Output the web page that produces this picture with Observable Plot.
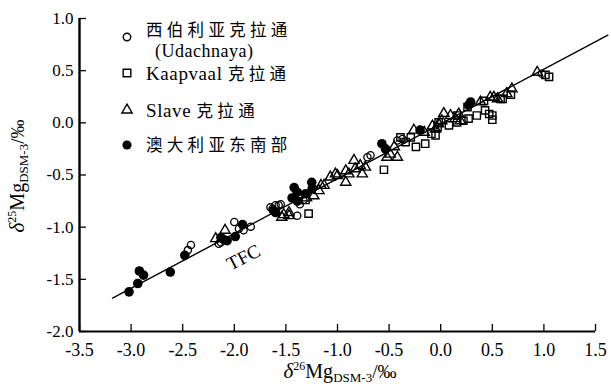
<!DOCTYPE html>
<html><head><meta charset="utf-8">
<script src="https://cdn.jsdelivr.net/npm/d3@7"></script>
<script src="https://cdn.jsdelivr.net/npm/@observablehq/plot@0.6"></script>
<style>body{margin:0;background:#fff}#chart{width:611px;height:386px}</style>
</head><body><div id="chart"></div>
<script>
// δ26Mg (x) , δ25Mg (y) values per group
const siberia = [[-2.45,-1.22],[-2.42,-1.17],[-2.15,-1.16],[-2.13,-1.145],[-2.00,-0.95],[-1.955,-1.015],[-1.91,-1.03],[-1.84,-0.995],[-1.65,-0.81],[-1.63,-0.825],[-1.60,-0.79],[-1.57,-0.79],[-1.55,-0.78],[-1.39,-0.89],[-1.365,-0.78],[-1.33,-0.74],[-0.71,-0.33],[-0.68,-0.31],[-0.42,-0.17],[-0.37,-0.155],[0.98,0.47]];
const kaapvaal = [[-1.28,-0.87],[-1.31,-0.74],[-0.55,-0.45],[-0.39,-0.14],[-0.34,-0.185],[-0.29,-0.14],[-0.24,-0.23],[-0.15,-0.20],[-0.09,-0.105],[-0.05,-0.12],[-0.03,-0.04],[-0.02,0.005],[0.08,-0.025],[0.16,0.07],[0.16,0.005],[0.22,0.02],[0.26,0.15],[0.27,0.04],[0.35,0.07],[0.42,0.21],[0.43,0.12],[0.47,0.085],[0.50,0.07],[0.50,0.03],[0.58,0.23],[0.60,0.23],[0.68,0.27],[1.015,0.46],[1.05,0.44]];
const slave = [[-2.18,-1.11],[-2.09,-1.03],[-1.54,-0.905],[-1.52,-0.88],[-1.47,-0.86],[-1.47,-0.89],[-1.30,-0.72],[-1.23,-0.70],[-1.18,-0.65],[-1.16,-0.60],[-1.13,-0.60],[-1.07,-0.52],[-1.02,-0.49],[-1.00,-0.505],[-0.92,-0.46],[-0.92,-0.57],[-0.89,-0.49],[-0.84,-0.36],[-0.83,-0.44],[-0.78,-0.41],[-0.76,-0.49],[-0.73,-0.425],[-0.52,-0.33],[-0.49,-0.30],[-0.45,-0.23],[-0.42,-0.33],[-0.26,-0.07],[-0.16,-0.09],[-0.08,-0.03],[-0.05,-0.06],[-0.02,-0.01],[0.01,0.02],[0.03,0.09],[0.095,0.07],[0.14,0.04],[0.175,0.085],[0.19,0.02],[0.385,0.20],[0.48,0.245],[0.515,0.245],[0.55,0.23],[0.64,0.28],[0.69,0.325],[0.935,0.485]];
const australia = [[-3.02,-1.62],[-2.935,-1.54],[-2.92,-1.42],[-2.88,-1.46],[-2.62,-1.43],[-2.48,-1.27],[-2.13,-1.10],[-2.10,-1.12],[-2.07,-1.13],[-1.99,-1.09],[-1.92,-0.975],[-1.62,-0.84],[-1.60,-0.86],[-1.42,-0.62],[-1.39,-0.665],[-1.44,-0.72],[-1.39,-0.75],[-1.31,-0.68],[-1.25,-0.57],[-1.245,-0.63],[-0.57,-0.20],[-0.535,-0.25],[-0.20,-0.07],[0.29,0.20],[0.27,0.17]];
const tfcLine = [[-3.18,-1.68],[1.62,0.84]];
const tfcLabel = [{x:-1.91, y:-1.29, t:"TFC"}];
const xTicks = [-3.5,-3.0,-2.5,-2.0,-1.5,-1.0,-0.5,0.0,0.5,1.0,1.5];
const yTicks = [-2.0,-1.5,-1.0,-0.5,0.0,0.5,1.0];
const legendLabels = ["西伯利亚克拉通","Kaapvaal","Slave","澳大利亚东南部"];

const pts = a => a.map(([x,y]) => ({x,y}));
const fmt = d => d.toFixed(1);
const serif = "'Liberation Serif', serif";
const cjk = "'Noto Sans CJK SC', sans-serif";

const plot = Plot.plot({
  width:611, height:386,
  marginLeft:79, marginRight:16, marginTop:18, marginBottom:55,
  x:{domain:[-3.5,1.5]}, y:{domain:[-2,1]},
  style:{fontFamily:serif, background:"white", color:"black", fontSize:"17px"},
  marks:[
    Plot.axisX(xTicks, {tickSize:-7, tickFormat:()=>"", label:null, strokeWidth:1.3}),
    Plot.axisX(xTicks, {tickSize:0, tickPadding:12, tickFormat:fmt, label:null, fontSize:18, letterSpacing:1}),
    Plot.axisY(yTicks, {tickSize:-7, tickFormat:()=>"", label:null, strokeWidth:1.3}),
    Plot.axisY(yTicks, {tickSize:0, tickPadding:6, tickFormat:fmt, label:null, fontSize:17, letterSpacing:0.5}),
    Plot.ruleX([-3.5], {strokeWidth:2.4}),
    Plot.ruleY([-2], {strokeWidth:2.2}),
    Plot.line(pts(tfcLine), {x:"x", y:"y", stroke:"black", strokeWidth:1.4}),
    Plot.text(tfcLabel, {x:"x", y:"y", text:"t", rotate:-27, fontSize:19, letterSpacing:1}),
    Plot.dot(pts(kaapvaal), {x:"x", y:"y", symbol:"square", r:4.1, stroke:"black", strokeWidth:1.4, fill:"none"}),
    Plot.dot(pts(slave), {x:"x", y:"y", symbol:"triangle", r:3.8, stroke:"black", strokeWidth:1.4, fill:"none"}),
    Plot.dot(pts(siberia), {x:"x", y:"y", symbol:"circle", r:3.6, stroke:"black", strokeWidth:1.3, fill:"none"}),
    Plot.dot(pts(australia), {x:"x", y:"y", symbol:"circle", r:4.8, fill:"black", stroke:"none"})
  ]
});
document.getElementById("chart").appendChild(plot);

const svg = d3.select(plot);
// legend
const lg = svg.append("g").attr("font-family",serif).attr("fill","black").attr("text-anchor","start");
const sym = (type, size) => d3.symbol().type(type).size(size)();
const rows = [
  {y:37, type:d3.symbolCircle, size:44, fill:"none"},
  {y:73, type:d3.symbolSquare, size:58, fill:"none"},
  {y:110, type:d3.symbolTriangle, size:46, fill:"none"},
  {y:145, type:d3.symbolCircle, size:66, fill:"black"}
];
rows.forEach(r => {
  lg.append("path").attr("d", sym(r.type, r.size)).attr("transform",`translate(127,${r.y})`)
    .attr("fill", r.fill).attr("stroke", r.fill==="none" ? "black" : "none").attr("stroke-width",1.4);
});
function addText(y, parts){
  const t = lg.append("text").attr("x",146).attr("y",y).attr("dominant-baseline","middle");
  parts.forEach(p => t.append("tspan").text(p.s).attr("font-family", p.cjk ? cjk : serif)
    .attr("font-size", p.cjk ? 16.5 : 19).attr("letter-spacing", p.cjk ? 4.3 : 0.6));
}
addText(32, [{s:legendLabels[0], cjk:true}]);
lg.append("text").attr("x",155).attr("y",53).attr("dominant-baseline","middle").attr("font-family",serif)
  .attr("font-size",18).attr("letter-spacing",0.5).text("(Udachnaya)");
addText(76, [{s:legendLabels[1]+" "}, {s:"克拉通", cjk:true}]);
addText(113, [{s:legendLabels[2]+" "}, {s:"克拉通", cjk:true}]);
addText(147, [{s:legendLabels[3], cjk:true}]);

// axis titles
function title(g, sup){
  g.append("tspan").text("δ").attr("font-style","italic").attr("font-size",21);
  g.append("tspan").text(sup).attr("font-size",12).attr("dy",-8);
  g.append("tspan").text("Mg").attr("font-size",20).attr("dy",8);
  g.append("tspan").text("DSM-3").attr("font-size",13).attr("dy",4);
  g.append("tspan").text("/‰").attr("font-size",19).attr("dy",-4);
}
const xt = svg.append("text").attr("x",340).attr("y",378).attr("text-anchor","middle").attr("font-family",serif);
title(xt, "26");
const yt = svg.append("text").attr("transform","translate(24,176) rotate(-90)").attr("text-anchor","middle").attr("font-family",serif);
title(yt, "25");
</script></body></html>
